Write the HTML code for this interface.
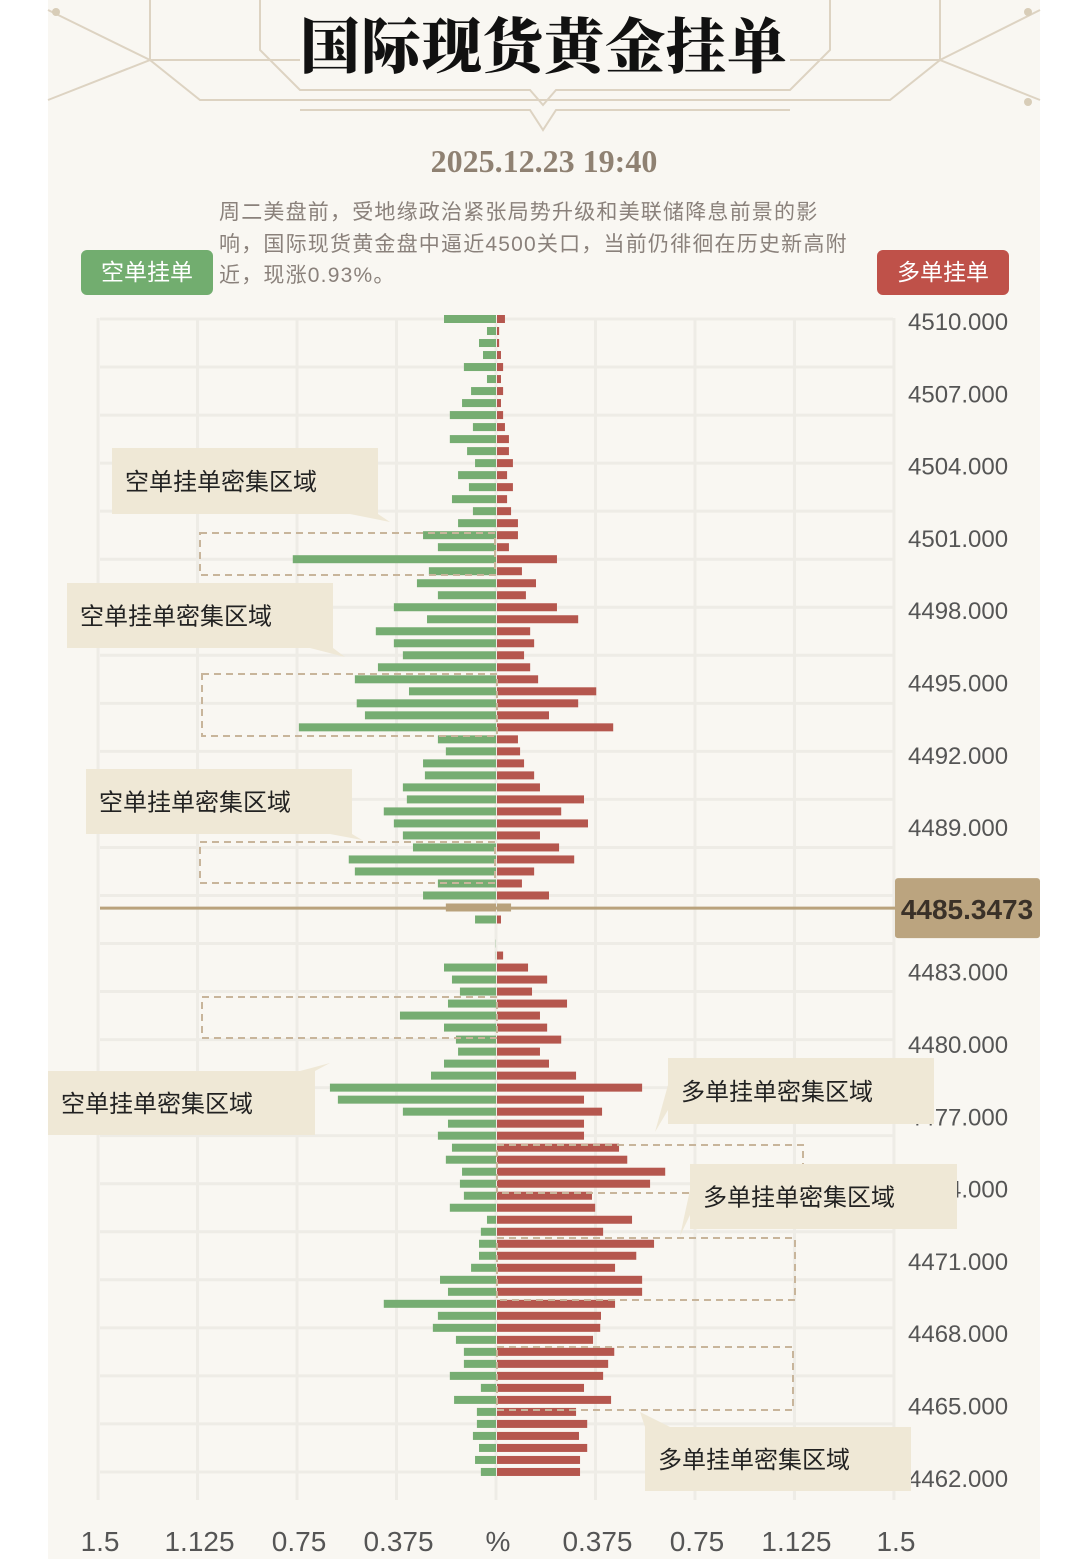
<!DOCTYPE html>
<html><head><meta charset="utf-8">
<style>
html,body{margin:0;padding:0;background:#fff;}
body{width:1088px;height:1559px;position:relative;overflow:hidden;font-family:"Liberation Sans","Noto Sans CJK SC",sans-serif;}
#page{position:absolute;left:48px;top:0;width:992px;height:1559px;background:#f9f7f2;}
.title{position:absolute;left:0;width:1088px;top:0px;text-align:center;font-family:"Liberation Serif","Noto Serif CJK SC",serif;font-weight:900;font-size:60px;color:#111;letter-spacing:1px;}
.date{position:absolute;left:0;width:1088px;top:143px;text-align:center;font-family:"Liberation Serif","Noto Serif CJK SC",serif;font-weight:bold;font-size:32px;color:#8f8172;}
.desc{position:absolute;left:219px;top:197px;width:700px;font-size:21px;letter-spacing:1.2px;line-height:31.5px;color:#8a817b;white-space:nowrap;font-family:"Liberation Sans","Noto Sans CJK SC",sans-serif;}
.btn{position:absolute;top:250px;width:132px;height:45px;border-radius:6px;color:#fff;font-size:23px;line-height:45px;text-align:center;font-family:"Liberation Sans","Noto Sans CJK SC",sans-serif;}
svg text{font-family:"Liberation Sans","Noto Sans CJK SC",sans-serif;}
</style></head>
<body>
<div id="page"></div>
<svg width="1088" height="320" style="position:absolute;left:0;top:0">
<g stroke="#ddd3c2" stroke-width="2" fill="none">
<polyline points="150,0 150,60 200,100 890,100 940,60 940,0"/>
<polyline points="260,0 260,50 300,90 530,90 543,105 556,90 790,90 830,50 830,0"/>
<polyline points="48,10 150,60 48,100"/>
<polyline points="1040,10 940,60 1040,100"/>
<polyline points="300,110 530,110 543,130 556,110 790,110"/>
<line x1="150" y1="60" x2="300" y2="60"/><line x1="790" y1="60" x2="940" y2="60"/>
</g>
<circle cx="56" cy="12" r="4" fill="#d8cdb8"/><circle cx="1028" cy="12" r="4" fill="#d8cdb8"/><circle cx="1028" cy="102" r="4" fill="#d8cdb8"/>
</svg>
<div class="title">国际现货黄金挂单</div>
<div class="date">2025.12.23 19:40</div>
<div class="desc">周二美盘前，受地缘政治紧张局势升级和美联储降息前景的影<br>响，国际现货黄金盘中逼近4500关口，当前仍徘徊在历史新高附<br>近，现涨0.93%。</div>
<div class="btn" style="left:81px;background:#72ad6f">空单挂单</div>
<div class="btn" style="left:877px;background:#bf5149">多单挂单</div>

<svg id="chart" width="1088" height="1559" style="position:absolute;left:0;top:0"></svg>

<script>
const shortVals=[.196,.034,.064,.049,.121,.034,.094,.128,.174,.087,.174,.109,.079,.143,.102,.166,.087,.143,.275,.219,.766,.253,.298,.219,.385,
.260,.453,.385,.351,.445,.532,.328,.525,.494,.743,.219,.189,.275,.268,.351,.336,.423,.385,.351,.313,.555,.532,.219,.275,.189,.079,
0,.001,.001,.196,.166,.136,.181,.362,.196,.151,.143,.196,.245,.626,.596,.351,.181,.219,.166,.189,.128,.136,.121,
.174,.034,.057,.064,.064,.094,.211,.181,.423,.219,.238,.151,.121,.121,.174,.057,.158,.072,.072,.087,.064,.079,.057];
const longVals=[.030,.008,.008,.015,.023,.015,.023,.015,.023,.030,.045,.045,.060,.038,.060,.038,.053,.079,.079,.045,.226,.094,.147,.109,.226,
.306,.125,.140,.102,.125,.155,.374,.306,.196,.438,.079,.087,.102,.140,.162,.328,.242,.343,.162,.234,.291,.140,.094,.196,.053,.015,
0,0,.023,.117,.189,.132,.264,.162,.189,.242,.162,.196,.298,.547,.328,.396,.328,.328,.460,.491,.634,.577,.358,
.370,.509,.400,.592,.525,.445,.547,.547,.445,.392,.389,.362,.442,.419,.400,.328,.430,.298,.340,.309,.340,.313,.313];
const topPrice=4510, priceStep=0.5;
const priceTicks=[4510,4507,4504,4501,4498,4495,4492,4489,4486,4483,4480,4477,4474,4471,4468,4465,4462];
const xTickLabels=["1.5","1.125","0.75","0.375","%","0.375","0.75","1.125","1.5"];
const xTickVals=[-1.5,-1.125,-0.75,-0.375,0,0.375,0.75,1.125,1.5];
const currentPrice=4485.3473;
const currentIdx=49;

const svg=document.getElementById('chart');
const NS='http://www.w3.org/2000/svg';
const X0=496, PXU=265.3;
function xs(v){return X0+v*PXU;}
function ys(p){return 321+(4510-p)*24.1;}
function yb(p){return 319+(4510-p)*24.02;}
function mk(tag,attrs){const e=document.createElementNS(NS,tag);for(const k in attrs)e.setAttribute(k,attrs[k]);svg.appendChild(e);return e;}

for(let i=0;i<xTickVals.length;i++){
  const g=mk('line',{x1:xs(xTickVals[i]),x2:xs(xTickVals[i]),y1:318,y2:1500,stroke:'#eeece6','stroke-width':3});
  
  
}
for(let p=4510;p>=4462;p-=2){
  const g=mk('line',{x1:100,x2:893,y1:yb(p),y2:yb(p),stroke:'#eeece6','stroke-width':3});
  
  
}
for(let i=0;i<shortVals.length;i++){
  const p=topPrice-i*priceStep, y=yb(p)-4;
  const cur=(i===currentIdx);
  if(shortVals[i]>0){
    const w=shortVals[i]*PXU;
    const r=mk('rect',{x:X0-w,y:y,width:w,height:8,fill:cur?'#b9a27c':'#76ad72'});
    
    
  }
  if(longVals[i]>0){
    const w=longVals[i]*PXU;
    const r=mk('rect',{x:X0+1,y:y,width:w,height:8,fill:cur?'#b9a27c':'#b5574e'});
    
    
  }
}
for(const p of priceTicks){
  if(p===4486) continue;
  const t=mk('text',{x:908,y:ys(p)+9,'font-size':24,fill:'#555'});
  t.textContent=p.toFixed(3);
  
  
}
for(let i=0;i<xTickLabels.length;i++){
  const t=mk('text',{x:xs(xTickVals[i])+2,y:1551,'font-size':28,fill:'#555','text-anchor':'middle'});
  t.textContent=xTickLabels[i];
  
  
}
const cy=yb(currentPrice)-3;
const cl=mk('line',{x1:100,x2:895,y1:cy,y2:cy,stroke:'#b9a27c','stroke-width':3});


const cb=mk('rect',{x:895,y:cy-30,width:145,height:60,rx:3,fill:'#bba47f'});


const ct=mk('text',{x:967,y:cy+11,'font-size':28,'font-weight':'bold',fill:'#3a3128','text-anchor':'middle'});
ct.textContent=currentPrice.toFixed(4);



const zones=[[200,533,295,42],[202,674,295,62],[200,842,295,41],[202,997,295,41],[497,1145,306,48],[497,1238,298,62],[497,1347,296,63]];
for(const z of zones){
  const r=mk('rect',{x:z[0],y:z[1],width:z[2],height:z[3],fill:'none',stroke:'#c8b59b','stroke-width':2,'stroke-dasharray':'7,5'});
  
  
}
const callouts=[
 [112,448,266,66,'350,514 378,514 390,522','空单挂单密集区域'],
 [67,583,266,65,'310,648 333,648 345,657','空单挂单密集区域'],
 [86,769,266,65,'330,834 352,834 362,840','空单挂单密集区域'],
 [48,1071,267,64,'300,1071 315,1071 330,1063','空单挂单密集区域'],
 [668,1058,266,66,'668,1085 668,1110 655,1132','多单挂单密集区域'],
 [690,1164,267,65,'690,1190 690,1215 680,1236','多单挂单密集区域'],
 [645,1427,266,64,'645,1427 670,1427 640,1412','多单挂单密集区域']];
for(const c of callouts){
  const r=mk('rect',{x:c[0],y:c[1],width:c[2],height:c[3],fill:'#efe8d6'});
  
  
  const tl=mk('polygon',{points:c[4],fill:'#efe8d6'});
  
  
  const t=mk('text',{x:c[0]+13,y:c[1]+c[3]/2+9,'font-size':24,fill:'#222'});
  t.textContent=c[5];
  
  
}
</script>
</body></html>
